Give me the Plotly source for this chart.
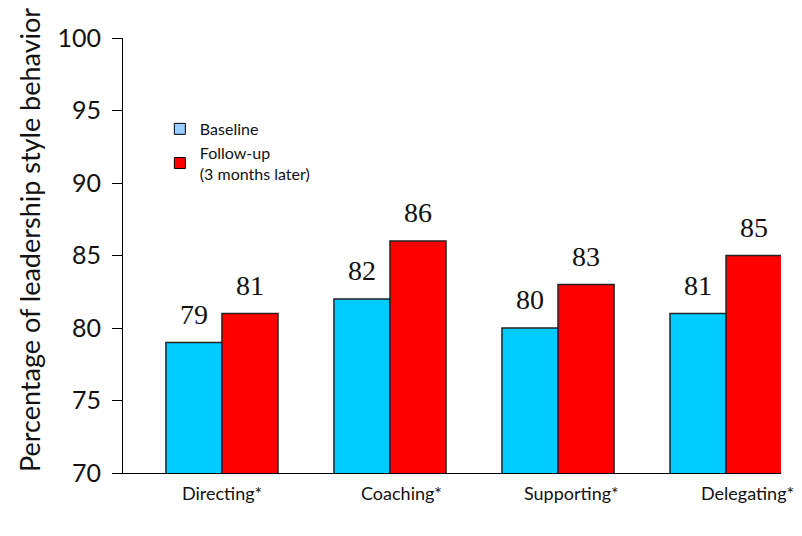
import plotly.graph_objects as go

categories = ["Directing*", "Coaching*", "Supporting*", "Delegating*"]
baseline = [79, 82, 80, 81]
followup = [81, 86, 83, 85]
y_ticks = [70, 75, 80, 85, 90, 95, 100]
y_title = "Percentage of leadership style behavior"

SANS = "Lato, 'Open Sans', sans-serif"
SERIF = "'Liberation Serif', 'DejaVu Serif', serif"
idx = list(range(len(categories)))

fig = go.Figure()
fig.add_bar(x=idx, y=baseline, marker=dict(color="#00ccff", line=dict(color="#222222", width=1.5)),
            showlegend=False, offsetgroup="b")
fig.add_bar(x=idx, y=followup, marker=dict(color="#ff0000", line=dict(color="#222222", width=1.5)),
            showlegend=False, offsetgroup="f")

# legend entries
fig.add_scatter(x=[None], y=[None], mode="markers", name="Baseline",
                marker=dict(symbol="square", size=11, color="#99ccff", line=dict(color="#000", width=1)))
fig.add_scatter(x=[None], y=[None], mode="markers", name="Follow-up<br>(3 months later)",
                marker=dict(symbol="square", size=11, color="#ff0000", line=dict(color="#000", width=1)))

ann = []
for i in idx:
    ann.append(dict(x=i, y=baseline[i], xref="x", yref="y", text=str(baseline[i]), showarrow=False,
                    xshift=-28, yanchor="bottom", yshift=11, font=dict(family=SERIF, size=28, color="#111")))
    ann.append(dict(x=i, y=followup[i], xref="x", yref="y", text=str(followup[i]), showarrow=False,
                    xshift=28, yanchor="bottom", yshift=11, font=dict(family=SERIF, size=28, color="#111")))
label_shift = [0, 11, 13, 21]
for i, c in enumerate(categories):
    ann.append(dict(x=i, y=0, xref="x", yref="paper", text=c, showarrow=False, xshift=label_shift[i],
                    yanchor="top", yshift=-7, font=dict(family=SANS, size=18, color="#111")))
ann.append(dict(x=30, y=240, xref="paper", yref="paper", text=y_title, showarrow=False, textangle=-90,
                xanchor="center", yanchor="middle", font=dict(family=SANS, size=27, color="#111")))
# convert pixel placement of y title to paper coordinates
ann[-1]["x"] = (30 - 123) / 658
ann[-1]["y"] = 1 - (240 - 38) / 435

fig.update_layout(
    width=802, height=536,
    margin=dict(l=123, r=21, t=38, b=63),
    paper_bgcolor="white", plot_bgcolor="white",
    barmode="group", bargap=0.333, bargroupgap=0,
    annotations=ann,
    legend=dict(x=0.056, y=0.83, xanchor="left", yanchor="top", bgcolor="rgba(0,0,0,0)",
                font=dict(family=SANS, size=16, color="#111"), tracegroupgap=2, itemwidth=30),
    xaxis=dict(range=[-0.589, 3.327], showticklabels=False, ticks="", showgrid=False, zeroline=False,
               showline=True, linecolor="#000", linewidth=1),
    yaxis=dict(range=[70, 100], tickvals=y_ticks, ticks="outside", ticklen=10, tickcolor="#000",
               showgrid=False, zeroline=False, showline=True, linecolor="#000", linewidth=1,
               tickfont=dict(family=SANS, size=25, color="#111"), ticklabelstandoff=6),
)
fig.write_html("out.html")
